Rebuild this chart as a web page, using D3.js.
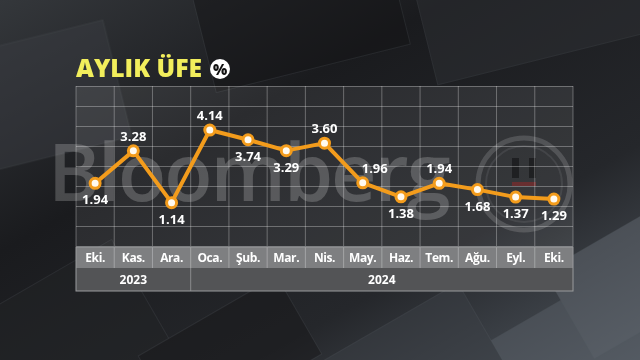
<!DOCTYPE html>
<html>
<head>
<meta charset="utf-8">
<script src="https://cdn.jsdelivr.net/npm/d3@7"></script>
<style>
html,body{margin:0;padding:0;background:#1e2023;}
svg{display:block;}
</style>
</head>
<body>
<svg id="chart" width="640" height="360"></svg>
<script>
const months = ["Eki.","Kas.","Ara.","Oca.","Şub.","Mar.","Nis.","May.","Haz.","Tem.","Ağu.","Eyl.","Eki."];
const values = [1.94,3.28,1.14,4.14,3.74,3.29,3.60,1.96,1.38,1.94,1.68,1.37,1.29];
const labelSide = ["below","above","below","above","below","below","above","above","below","above","below","below","below"];
const labelShift = [0,0,0,0,0,0,0,12,0,0,0,0,0];
const years = [{label:"2023", from:0, to:2},{label:"2024", from:3, to:12}];
const title = "AYLIK ÜFE";

const svg = d3.select("#chart");
const W = 640, H = 360;
const defs = svg.append("defs");

// background
const bg = defs.append("linearGradient").attr("id","bg").attr("x1","0").attr("y1","0").attr("x2","1").attr("y2","1");
bg.append("stop").attr("offset","0").attr("stop-color","#34373b");
bg.append("stop").attr("offset","0.35").attr("stop-color","#1a1b1e");
bg.append("stop").attr("offset","0.7").attr("stop-color","#25272b");
bg.append("stop").attr("offset","1").attr("stop-color","#4e555d");
svg.append("rect").attr("width",W).attr("height",H).attr("fill","url(#bg)");

// faint diagonal texture tiles
const tex = svg.append("g").attr("opacity",0.5);
const tiles = [
  [420,-60,220,120,-14,"#2e3135"],[200,-40,200,110,-14,"#141517"],[-60,40,180,120,-14,"#3a3d42"],
  [470,300,220,140,-30,"#5a6169"],[320,320,180,120,-30,"#3c4147"],[560,230,140,100,-30,"#646b73"],
  [-40,280,200,140,-30,"#222427"],[150,310,160,90,-30,"#19191b"]
];
tex.selectAll("rect").data(tiles).join("rect")
  .attr("x",d=>d[0]).attr("y",d=>d[1]).attr("width",d=>d[2]).attr("height",d=>d[3])
  .attr("transform",d=>`rotate(${d[4]},${d[0]+d[2]/2},${d[1]+d[3]/2})`)
  .attr("fill",d=>d[5]).attr("stroke","#6a6f75").attr("stroke-opacity",0.35);

// scales
const plotTop = 86, plotBottom = 246;
const x = d3.scaleBand().domain(d3.range(months.length)).range([76,573]).padding(0);
const y = d3.scaleLinear().domain([-0.65,5.96]).range([plotBottom,plotTop]);

// plot area
svg.append("rect").attr("x",76).attr("y",plotTop).attr("width",497).attr("height",plotBottom-plotTop)
  .attr("fill","#ffffff").attr("fill-opacity",0.08);

// watermark
svg.append("text").attr("x",48).attr("y",201).text("Bloomberg")
  .attr("font-family","Open Sans, sans-serif").attr("font-size",79).attr("font-weight",600)
  .attr("letter-spacing",-2)
  .attr("fill","#ffffff").attr("fill-opacity",0.2);
const logo = svg.append("g").attr("transform","translate(524,184)");
logo.append("circle").attr("r",46).attr("fill","none").attr("stroke","#ffffff").attr("stroke-opacity",0.15).attr("stroke-width",5);
logo.append("circle").attr("r",38).attr("fill","none").attr("stroke","#ffffff").attr("stroke-opacity",0.08).attr("stroke-width",2);
logo.append("rect").attr("x",-12).attr("y",-26).attr("width",7).attr("height",20).attr("fill","#000").attr("fill-opacity",0.4);
logo.append("rect").attr("x",5).attr("y",-26).attr("width",7).attr("height",20).attr("fill","#000").attr("fill-opacity",0.4);
logo.append("rect").attr("x",-12).attr("y",-2).attr("width",24).attr("height",4).attr("fill","#8a2a2a").attr("fill-opacity",0.6);

// grid
const grid = svg.append("g").attr("stroke","#ffffff").attr("stroke-opacity",0.3).attr("stroke-width",1);
const rows = 8;
grid.selectAll("line.h").data(d3.range(rows+1)).join("line").attr("class","h")
  .attr("x1",76).attr("x2",573)
  .attr("y1",i=>plotTop+i*(plotBottom-plotTop)/rows+0.5).attr("y2",i=>plotTop+i*(plotBottom-plotTop)/rows+0.5);
grid.selectAll("line.v").data(d3.range(months.length+1)).join("line").attr("class","v")
  .attr("x1",i=>i<months.length?x(i):x.range()[1]).attr("x2",i=>i<months.length?x(i):x.range()[1])
  .attr("y1",plotTop).attr("y2",plotBottom);

// month row
const mRowTop = 247, mRowH = 21, yRowH = 23;
svg.append("rect").attr("x",76).attr("y",mRowTop).attr("width",497).attr("height",mRowH).attr("fill","#7e7f81");
svg.selectAll("line.ms").data(d3.range(1,months.length)).join("line").attr("class","ms")
  .attr("x1",i=>x(i)).attr("x2",i=>x(i)).attr("y1",mRowTop).attr("y2",mRowTop+mRowH)
  .attr("stroke","#a3a4a6").attr("stroke-width",1);
svg.selectAll("text.month").data(months).join("text").attr("class","month")
  .attr("x",(d,i)=>x(i)+x.bandwidth()/2).attr("y",mRowTop+15)
  .attr("text-anchor","middle").attr("font-family","Open Sans, sans-serif").attr("font-weight",700)
  .attr("font-size",12).attr("letter-spacing",-0.4).attr("fill","#ffffff").text(d=>d);

// year row
const yRowTop = mRowTop+mRowH;
svg.append("rect").attr("x",76).attr("y",yRowTop).attr("width",497).attr("height",yRowH).attr("fill","#535456");
svg.selectAll("line.ys").data(years.slice(1)).join("line").attr("class","ys")
  .attr("x1",d=>x(d.from)).attr("x2",d=>x(d.from)).attr("y1",yRowTop).attr("y2",yRowTop+yRowH)
  .attr("stroke","#8a8b8d");
svg.selectAll("text.year").data(years).join("text").attr("class","year")
  .attr("x",d=>(x(d.from)+x(d.to)+x.bandwidth())/2).attr("y",yRowTop+16)
  .attr("text-anchor","middle").attr("font-family","Open Sans, sans-serif").attr("font-weight",700)
  .attr("font-size",12).attr("fill","#ffffff").text(d=>d.label);
svg.append("rect").attr("x",76).attr("y",mRowTop).attr("width",497).attr("height",mRowH+yRowH)
  .attr("fill","none").attr("stroke","#9a9b9d").attr("stroke-width",1);

// line
const line = d3.line().x((d,i)=>x(i)+x.bandwidth()/2).y(d=>y(d));
svg.append("path").datum(values).attr("d",line).attr("fill","none")
  .attr("stroke","#f39c1c").attr("stroke-width",4).attr("stroke-linejoin","round");
svg.selectAll("circle.pt").data(values).join("circle").attr("class","pt")
  .attr("cx",(d,i)=>x(i)+x.bandwidth()/2).attr("cy",d=>y(d)).attr("r",5)
  .attr("fill","#fffaf0").attr("stroke","#f39c1c").attr("stroke-width",3);

// value labels
svg.selectAll("text.val").data(values).join("text").attr("class","val")
  .attr("x",(d,i)=>x(i)+x.bandwidth()/2+labelShift[i])
  .attr("y",(d,i)=>labelSide[i]==="above"?y(d)-10:y(d)+21)
  .attr("text-anchor","middle").attr("font-family","Open Sans, sans-serif").attr("font-weight",700)
  .attr("font-size",13).attr("fill","#ffffff").text(d=>d.toFixed(2));

// title
svg.append("text").attr("x",76).attr("y",77).text(title)
  .attr("font-family","Open Sans, sans-serif").attr("font-weight",800).attr("font-size",25)
  .attr("textLength",126).attr("lengthAdjust","spacingAndGlyphs")
  .attr("fill","#f2ee5c");
svg.append("circle").attr("cx",220).attr("cy",69).attr("r",10).attr("fill","#ffffff");
svg.append("text").attr("x",220).attr("y",74.5).attr("text-anchor","middle")
  .attr("font-family","Open Sans, sans-serif").attr("font-weight",800).attr("font-size",15)
  .attr("fill","#111").text("%");
</script>
</body>
</html>
